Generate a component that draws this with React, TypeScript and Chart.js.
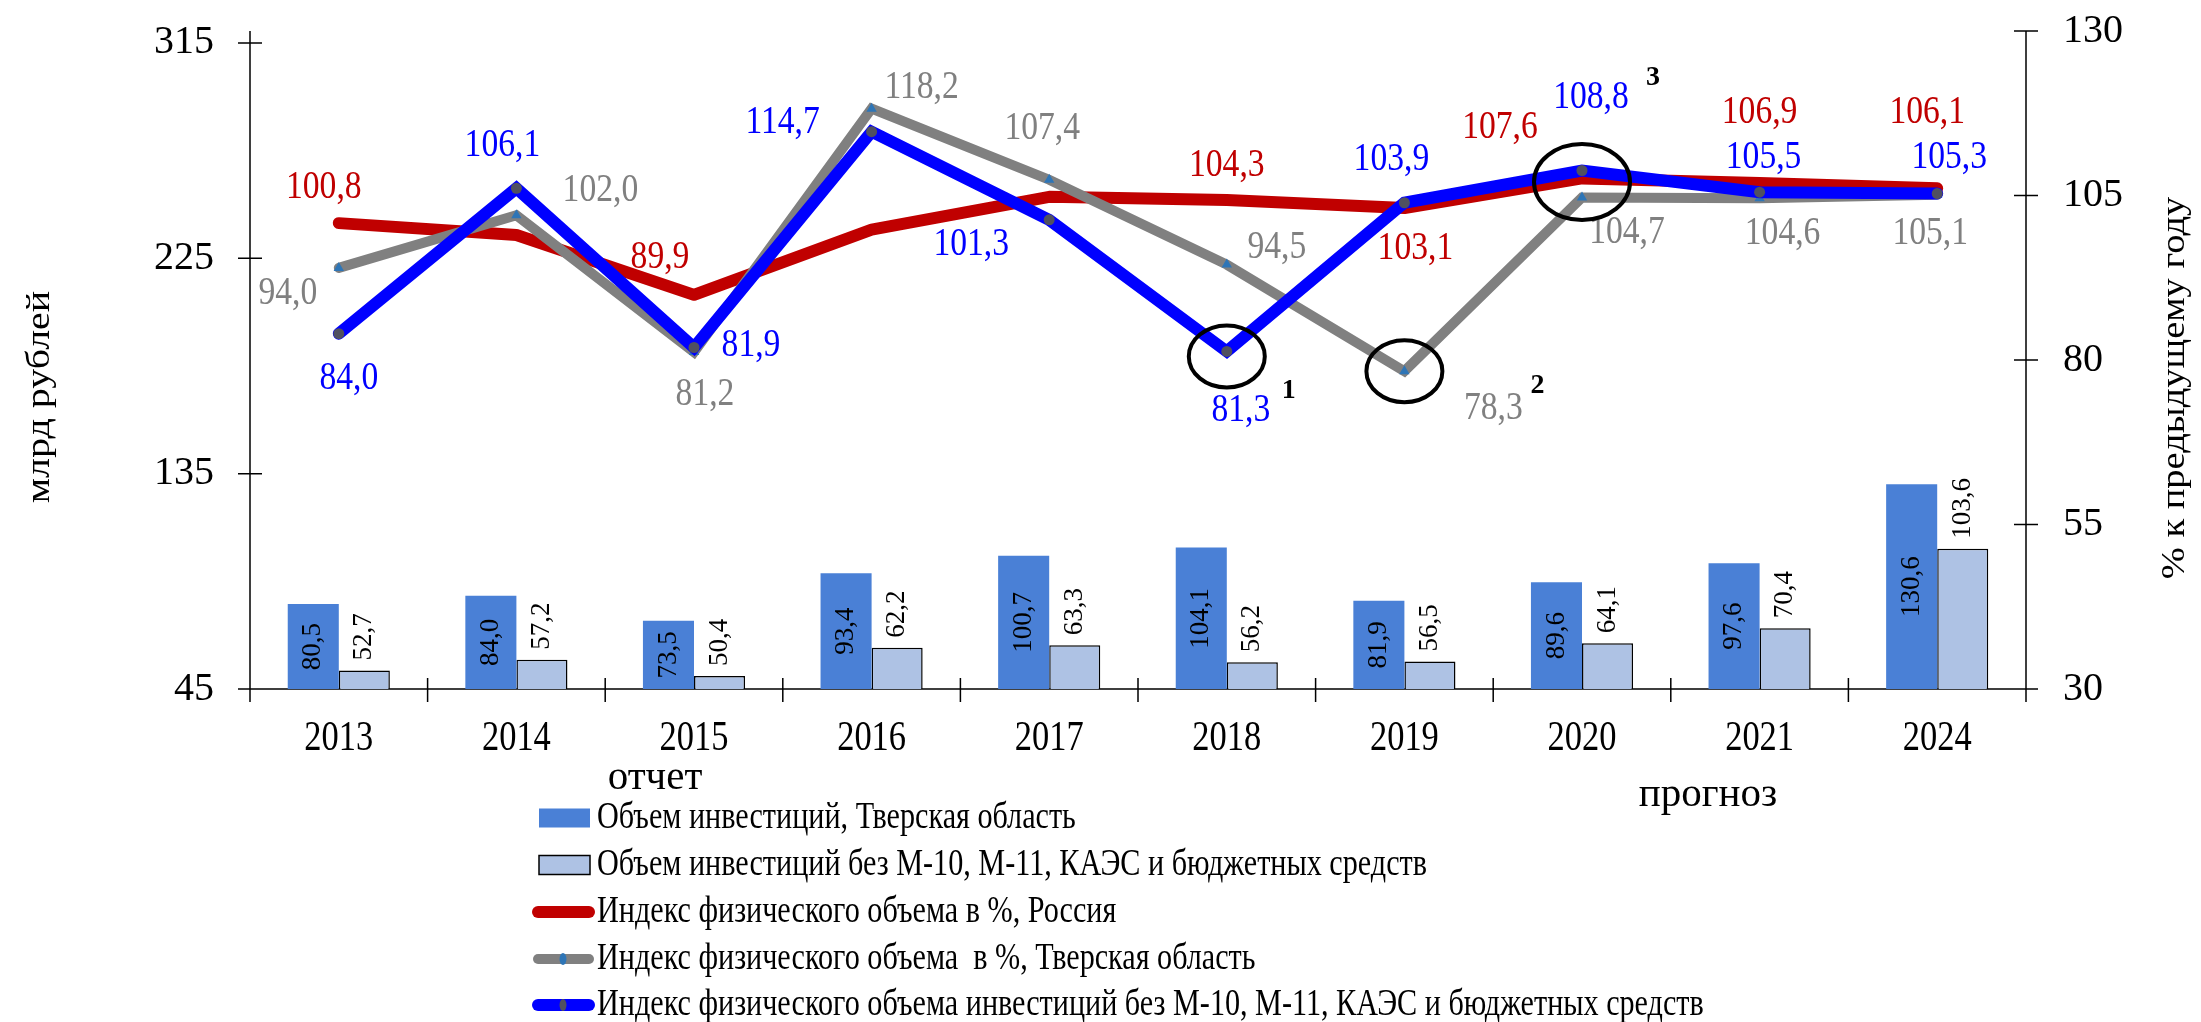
import React, { useEffect, useRef } from 'react';
import { Chart, registerables } from 'chart.js';
Chart.register(...registerables);

// ---------- data ----------
const years = ['2013', '2014', '2015', '2016', '2017', '2018', '2019', '2020', '2021', '2024'];
const investTver = [80.5, 84.0, 73.5, 93.4, 100.7, 104.1, 81.9, 89.6, 97.6, 130.6];
const investExcl = [52.7, 57.2, 50.4, 62.2, 63.3, 56.2, 56.5, 64.1, 70.4, 103.6];
const indexRussia = [100.8, 99.0, 89.9, 99.8, 104.8, 104.3, 103.1, 107.6, 106.9, 106.1];
const indexTver = [94.0, 102.0, 81.2, 118.2, 107.4, 94.5, 78.3, 104.7, 104.6, 105.1];
const indexExcl = [84.0, 106.1, 81.9, 114.7, 101.3, 81.3, 103.9, 108.8, 105.5, 105.3];
const leftTicks = [45, 135, 225, 315];
const rightTicks = [30, 55, 80, 105, 130];

const seriesNames = [
  'Объем инвестиций, Тверская область',
  'Объем инвестиций без М-10, М-11, КАЭС и бюджетных средств',
  'Индекс физического объема в %, Россия',
  'Индекс физического объема  в %, Тверская область',
  'Индекс физического объема инвестиций без М-10, М-11, КАЭС и бюджетных средств',
];
const leftTitle = 'млрд рублей';
const rightTitle = '% к предыдущему году';
const reportText = 'отчет';
const forecastText = 'прогноз';

// label placement (offsets from the point, px); null = no label
const russiaLabelOffsets: ([number, number] | null)[] = [[-15, -36], null, [-34, -38], null, null, [0, -35], [11, 40], [-82, -51], [0, -71], [-10, -76]];
const tverLabelOffsets: [number, number][] = [[-51, 25], [84, -25], [11, 42], [50, -21], [-7, -51], [50, -17], [89, 37], [45, 35], [23, 35], [-7, 38]];
const exclLabelOffsets: [number, number][] = [[10, 45], [-14, -43], [57, -2], [-89, -9], [-78, 24], [14, 59], [-13, -44], [9, -73], [4, -35], [12, -36]];

// highlighted points: dataset indexes, category index, footnote mark
const highlights = [
  { sets: [4], index: 5, mark: '1', dy: 5, rx: 38, ry: 31, mx: 62, my: 34 },
  { sets: [3], index: 6, mark: '2', dy: 0, rx: 38, ry: 31, mx: 133, my: 15 },
  { sets: [3, 4], index: 7, mark: '3', dy: -2, rx: 48, ry: 38, mx: 71, my: -104 },
];

const FONT = "'Liberation Serif', 'Times New Roman', serif";
const C_DARK = '#4A80D6';
const C_LIGHT = '#AEC2E4';
const C_RED = '#C00000';
const C_GRAY = '#808080';
const C_BLUE = '#0000FF';

const fmt = (v: number) => v.toFixed(1).replace('.', ',');

function drawText(ctx: CanvasRenderingContext2D, text: string, x: number, y: number, o: any) {
  ctx.save();
  ctx.translate(x, y);
  const sx = o.sx ?? 1;
  if (o.rotate) {
    ctx.rotate(-Math.PI / 2);
    ctx.scale(1, sx);
  } else {
    ctx.scale(sx, 1);
  }
  ctx.font = `${o.bold ? 'bold ' : ''}${o.size}px ${FONT}`;
  ctx.fillStyle = o.color ?? '#000';
  ctx.textAlign = o.align ?? 'center';
  ctx.textBaseline = o.baseline ?? 'middle';
  ctx.fillText(text, 0, 0);
  ctx.restore();
}

const decor = {
  id: 'decor',
  beforeDatasetsDraw(chart: any) {
    const ctx: CanvasRenderingContext2D = chart.ctx;
    const { left, right, top, bottom } = chart.chartArea;
    const xs = chart.scales.x, yL = chart.scales.yL, yR = chart.scales.yR;
    ctx.save();
    ctx.strokeStyle = '#000';
    ctx.lineWidth = 1.5;
    ctx.beginPath();
    ctx.moveTo(left, top); ctx.lineTo(left, bottom);
    ctx.moveTo(right, top); ctx.lineTo(right, bottom);
    ctx.moveTo(left, bottom); ctx.lineTo(right, bottom);
    leftTicks.forEach((v) => { const y = yL.getPixelForValue(v); ctx.moveTo(left - 12, y); ctx.lineTo(left + 12, y); });
    rightTicks.forEach((v) => { const y = yR.getPixelForValue(v); ctx.moveTo(right - 12, y); ctx.lineTo(right + 12, y); });
    for (let i = 0; i <= years.length; i++) {
      const x = xs.getPixelForValue(i - 0.5);
      ctx.moveTo(x, bottom - 11); ctx.lineTo(x, bottom + 13);
    }
    ctx.stroke();
    ctx.restore();
  },
  afterDatasetsDraw(chart: any) {
    const ctx: CanvasRenderingContext2D = chart.ctx;
    const bottom = chart.chartArea.bottom;
    // bar labels
    const dark = chart.getDatasetMeta(0).data;
    dark.forEach((el: any, i: number) => {
      const base = Math.min(el.base, bottom);
      drawText(ctx, fmt(investTver[i]), el.x, (el.y + base) / 2, { size: 27, rotate: true, sx: 1 });
    });
    const light = chart.getDatasetMeta(1).data;
    light.forEach((el: any, i: number) => {
      drawText(ctx, fmt(investExcl[i]), el.x, el.y - 10, { size: 27, rotate: true, sx: 1, align: 'left' });
    });
    // line labels
    const put = (dsIndex: number, values: number[], offs: any[], color: string) => {
      const pts = chart.getDatasetMeta(dsIndex).data;
      pts.forEach((p: any, i: number) => {
        const o = offs[i];
        if (!o) return;
        drawText(ctx, fmt(values[i]), p.x + o[0], p.y + o[1], { size: 41, sx: 0.82, color });
      });
    };
    put(2, indexRussia, russiaLabelOffsets, C_RED);
    put(3, indexTver, tverLabelOffsets, C_GRAY);
    put(4, indexExcl, exclLabelOffsets, C_BLUE);
    // highlight ellipses
    highlights.forEach((h) => {
      const pts = h.sets.map((s) => chart.getDatasetMeta(s).data[h.index]);
      const cx = pts.reduce((a: number, p: any) => a + p.x, 0) / pts.length;
      const cy = pts.reduce((a: number, p: any) => a + p.y, 0) / pts.length + h.dy;
      ctx.save();
      ctx.strokeStyle = '#000';
      ctx.lineWidth = 4;
      ctx.beginPath();
      ctx.ellipse(cx, cy, h.rx, h.ry, 0, 0, Math.PI * 2);
      ctx.stroke();
      ctx.restore();
      drawText(ctx, h.mark, cx + h.mx, cy + h.my, { size: 28, bold: true });
    });
  },
  afterDraw(chart: any) {
    const ctx: CanvasRenderingContext2D = chart.ctx;
    const { left, right, bottom, top } = chart.chartArea;
    const xs = chart.scales.x, yL = chart.scales.yL, yR = chart.scales.yR;
    leftTicks.forEach((v) => drawText(ctx, String(v), left - 36, yL.getPixelForValue(v), { size: 40, align: 'right' }));
    rightTicks.forEach((v) => drawText(ctx, String(v), right + 37, yR.getPixelForValue(v), { size: 40, align: 'left' }));
    years.forEach((y, i) => drawText(ctx, y, xs.getPixelForValue(i), bottom + 50, { size: 42, sx: 0.82 }));
    drawText(ctx, leftTitle, 40, (top + bottom) / 2 + 37, { size: 40, rotate: true, sx: 0.85 });
    drawText(ctx, rightTitle, 2175, 388, { size: 38.5, rotate: true, sx: 0.85 });
    drawText(ctx, reportText, 655, 778, { size: 41 });
    drawText(ctx, forecastText, 1708, 795, { size: 41 });
    // legend
    const rowY = [818, 865, 912, 959, 1005];
    const ds = chart.data.datasets;
    ds.forEach((d: any, i: number) => {
      const y = rowY[i];
      ctx.save();
      if (d.type === 'line') {
        ctx.strokeStyle = d.borderColor;
        ctx.lineWidth = d.borderWidth;
        ctx.lineCap = 'round';
        ctx.beginPath();
        ctx.moveTo(538, y); ctx.lineTo(589, y);
        ctx.stroke();
        if (d.pointRadius > 0) {
          ctx.fillStyle = d.pointBackgroundColor;
          ctx.beginPath();
          ctx.ellipse(563, y, 3.5, 6, 0, 0, Math.PI * 2);
          ctx.fill();
        }
      } else {
        ctx.fillStyle = d.backgroundColor;
        ctx.fillRect(539, y - 9.5, 51, 19);
        if (d.borderWidth) {
          ctx.strokeStyle = '#000';
          ctx.lineWidth = 1.5;
          ctx.strokeRect(539, y - 9.5, 51, 19);
        }
      }
      ctx.restore();
      drawText(ctx, d.label, 597, y, { size: 37, sx: 0.815, align: 'left' });
    });
  },
};

export default function App() {
  const ref = useRef<HTMLCanvasElement>(null);
  useEffect(() => {
    const chart = new Chart(ref.current as HTMLCanvasElement, {
      type: 'bar',
      data: {
        labels: years,
        datasets: [
          { type: 'bar', label: seriesNames[0], data: investTver, yAxisID: 'yL', backgroundColor: C_DARK, borderWidth: 0, categoryPercentage: 0.575, barPercentage: 1, order: 3 } as any,
          { type: 'bar', label: seriesNames[1], data: investExcl, yAxisID: 'yL', backgroundColor: C_LIGHT, borderColor: '#000', borderWidth: 1.5, categoryPercentage: 0.575, barPercentage: 1, order: 4 } as any,
          { type: 'line', label: seriesNames[2], data: indexRussia, yAxisID: 'yR', borderColor: C_RED, borderWidth: 12, pointRadius: 0, borderCapStyle: 'round', borderJoinStyle: 'round', tension: 0, order: 2 } as any,
          { type: 'line', label: seriesNames[3], data: indexTver, yAxisID: 'yR', borderColor: C_GRAY, borderWidth: 10, pointRadius: 6, pointStyle: 'triangle', pointBackgroundColor: '#2E75B6', pointBorderWidth: 0, borderCapStyle: 'round', borderJoinStyle: 'miter', tension: 0, order: 1 } as any,
          { type: 'line', label: seriesNames[4], data: indexExcl, yAxisID: 'yR', borderColor: C_BLUE, borderWidth: 12, pointRadius: 5.5, pointStyle: 'circle', pointBackgroundColor: '#505060', pointBorderWidth: 0, borderCapStyle: 'round', borderJoinStyle: 'miter', tension: 0, order: 0 } as any,
        ],
      },
      options: {
        responsive: false,
        devicePixelRatio: 1,
        animation: false,
        layout: { padding: { top: 31, left: 0, right: 0, bottom: 0 } },
        plugins: { legend: { display: false }, tooltip: { enabled: false } },
        scales: {
          x: {
            type: 'category', offset: true,
            grid: { display: false }, border: { display: false }, ticks: { display: false },
            afterFit: (s: any) => { s.height = 333; },
          },
          yL: {
            type: 'linear', position: 'left', min: 45, max: 320, beginAtZero: false,
            grid: { display: false }, border: { display: false }, ticks: { display: false },
            afterBuildTicks: (a: any) => { a.ticks = leftTicks.map((v) => ({ value: v })); },
            afterFit: (s: any) => { s.width = 250; },
          },
          yR: {
            type: 'linear', position: 'right', min: 30, max: 130,
            grid: { display: false }, border: { display: false }, ticks: { display: false },
            afterBuildTicks: (a: any) => { a.ticks = rightTicks.map((v) => ({ value: v })); },
            afterFit: (s: any) => { s.width = 175; },
          },
        },
      } as any,
      plugins: [decor],
    });
    return () => chart.destroy();
  }, []);
  return (
    <canvas
      ref={ref}
      width={2201}
      height={1022}
      style={{ position: 'fixed', left: 0, top: 0, width: '2201px', height: '1022px', background: '#fff' }}
    />
  );
}
